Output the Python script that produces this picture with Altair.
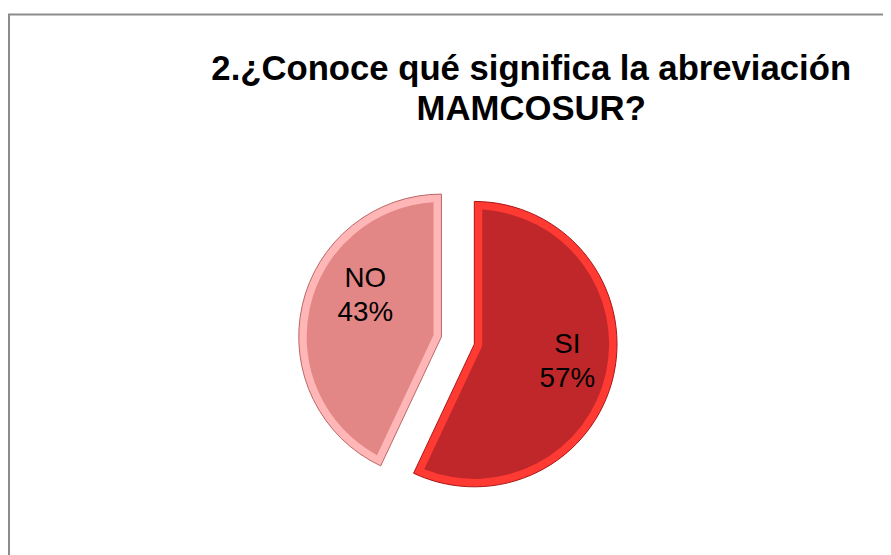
import math
import altair as alt
import pandas as pd

# ---- data ----
categories = ["SI", "NO"]
values = [57, 43]
fills = ["#C0272A", "#E38686"]
rims = ["#FF3A33", "#FFB6B6"]
outlines = ["#A81515", "#BA6464"]
title_lines = ["2.¿Conoce qué significa la abreviación", "MAMCOSUR?"]

df = pd.DataFrame({"category": categories, "value": values})
total = sum(values)

# ---- layout / style ----
W, H = 883, 547
CX, CY = 454, 333
R = 144
RIM = 8
EXPLODE = 17
LABEL_R = 91
label_adjust = {"SI": (5, -19), "NO": (12, -38)}

theta_scale = alt.Scale(domain=[0, total], range=[0, 2 * math.pi])

base = alt.Chart(df).transform_window(
    cum="sum(value)", sort=[alt.SortField("category", order="descending")]
).transform_calculate(
    start="datum.cum - datum.value",
    mid="datum.cum - datum.value / 2",
    label="datum.category + '\\n' + datum.value + '%'",
)

layers = []
one = pd.DataFrame({"k": [0]})
frame = alt.Chart(one).mark_rect(
    fill="transparent", stroke="#8C8C8C", strokeWidth=2
).encode(x=alt.value(1), y=alt.value(4), x2=alt.value(3000), y2=alt.value(3000))
layers.append(frame)

cum = 0
for cat, v, fill, rim, outline in zip(categories, values, fills, rims, outlines):
    ang = v / total * 2 * math.pi
    mid = (cum + v / 2) / total * 2 * math.pi
    cum += v
    ox = EXPLODE * math.sin(mid)
    oy = -EXPLODE * math.cos(mid)
    if ang > math.pi:
        r0 = RIM + 0.05
    else:
        r0 = RIM / math.sin(ang / 2) + 0.05
    r1 = R - RIM
    pad = 2 * math.asin(RIM / math.sqrt(r0 * r0 + r1 * r1))

    sl = base.transform_filter(alt.datum.category == cat)
    enc = dict(
        theta=alt.Theta("start:Q", scale=theta_scale, stack=None),
        theta2=alt.Theta2("cum"),
        x=alt.value(CX),
        y=alt.value(CY),
    )
    rim_layer = sl.mark_arc(
        radius=R, fill=rim, stroke=outline, strokeWidth=1, xOffset=ox, yOffset=oy
    ).encode(**enc)
    inner_layer = sl.mark_arc(
        radius=r1, radius2=r0, padAngle=pad, fill=fill, xOffset=ox, yOffset=oy
    ).encode(**enc)
    adx, ady = label_adjust[cat]
    text_layer = sl.mark_text(
        radius=LABEL_R,
        font="Liberation Sans",
        fontSize=28,
        lineHeight=34,
        lineBreak="\n",
        align="center",
        baseline="middle",
        color="#000000",
        xOffset=ox + adx,
        yOffset=oy + ady,
    ).encode(
        theta=alt.Theta("mid:Q", scale=theta_scale, stack=None),
        text="label:N",
        x=alt.value(CX),
        y=alt.value(CY),
    )
    layers += [rim_layer, inner_layer, text_layer]

title = alt.Chart(one).mark_text(
    font="Liberation Sans",
    fontSize=35,
    fontWeight="bold",
    lineBreak="\n",
    lineHeight=41,
    align="center",
    baseline="alphabetic",
    color="#000000",
).encode(text=alt.value("\n".join(title_lines)), x=alt.value(528), y=alt.value(70))
layers.append(title)

chart = alt.layer(*layers).properties(
    width=W, height=H, autosize="none", padding=0
).configure_view(stroke=None)

chart.save("out.html", embed_options={"renderer": "svg", "actions": False})
